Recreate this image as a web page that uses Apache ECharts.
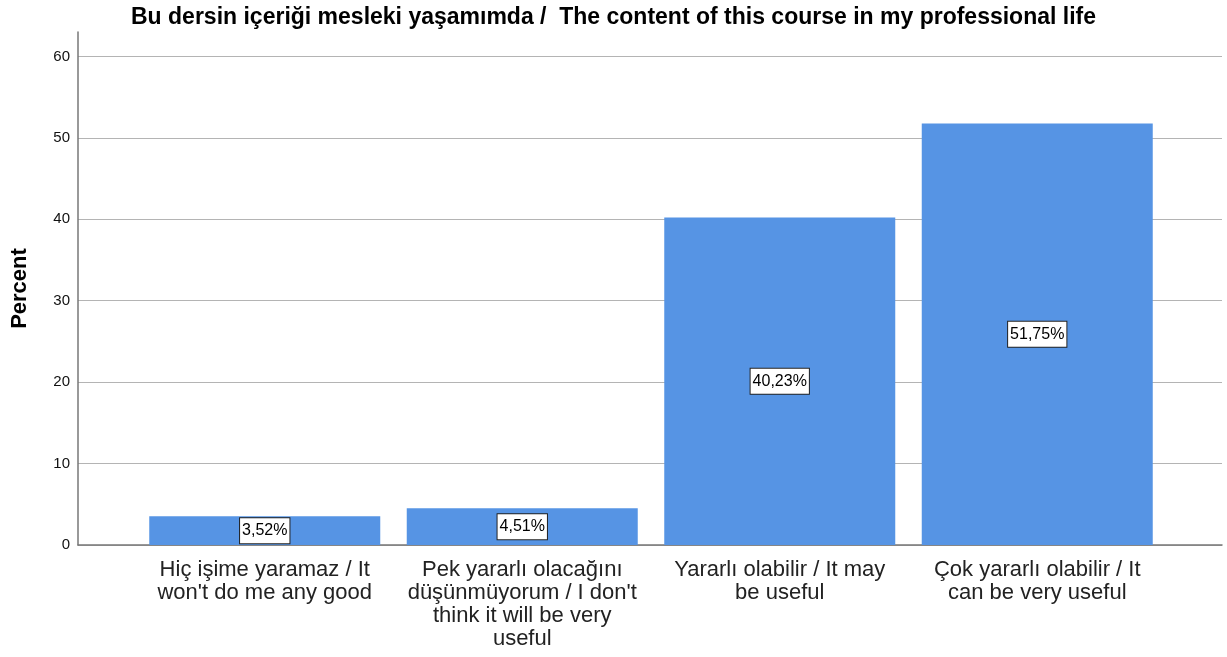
<!DOCTYPE html>
<html>
<head>
<meta charset="utf-8">
<script src="https://cdn.jsdelivr.net/npm/echarts@6/dist/echarts.min.js"></script>
<style>
  html, body { margin: 0; padding: 0; background: #fff; }
  #chart { width: 1227px; height: 657px; }
</style>
</head>
<body>
<div id="chart"></div>
<script>
const titleText = 'Bu dersin içeriği mesleki yaşamımda /  The content of this course in my professional life';
const categories = [
  'Hiç işime yaramaz / It won\'t do me any good',
  'Pek yararlı olacağını düşünmüyorum / I don\'t think it will be very useful',
  'Yararlı olabilir / It may be useful',
  'Çok yararlı olabilir / It can be very useful'
];
const percents = [3.52, 4.51, 40.23, 51.75];
const yTicks = [0, 10, 20, 30, 40, 50, 60];

const font = "'Liberation Sans', Arial, sans-serif";
const yMax = 63;
const catFontSize = 22;

// word wrap category labels to a fixed pixel width
const ctx = document.createElement('canvas').getContext('2d');
ctx.font = catFontSize + 'px ' + font;
function wrap(text, maxW) {
  const words = text.split(' ');
  const lines = [];
  let cur = '';
  words.forEach(w => {
    const test = cur ? cur + ' ' + w : w;
    if (cur && ctx.measureText(test).width > maxW) {
      lines.push(cur);
      cur = w;
    } else {
      cur = test;
    }
  });
  if (cur) lines.push(cur);
  return lines.join('\n');
}

const chart = echarts.init(document.getElementById('chart'));
chart.setOption({
  animation: false,
  textStyle: { fontFamily: font },
  title: {
    text: titleText,
    left: 'center',
    top: 1,
    textStyle: { fontFamily: font, fontSize: 23, fontWeight: 'bold', color: '#000' }
  },
  grid: [
    { left: 78, right: 5, top: 32, bottom: 112, outerBoundsMode: 'none', containLabel: false },
    { left: 136, right: 61, top: 32, bottom: 112, outerBoundsMode: 'none', containLabel: false }
  ],
  xAxis: [
    {
      gridIndex: 0, type: 'value', min: 0, max: 1,
      axisLine: { show: true, lineStyle: { color: '#777', width: 1.5 } },
      axisTick: { show: false }, axisLabel: { show: false }, splitLine: { show: false }
    },
    {
      gridIndex: 1, type: 'category', data: categories,
      axisLine: { show: false }, axisTick: { show: false },
      axisLabel: {
        interval: 0, margin: 13, fontSize: catFontSize, lineHeight: 23, color: '#222',
        fontFamily: font, hideOverlap: false,
        formatter: v => wrap(v, 236)
      }
    }
  ],
  yAxis: [
    {
      gridIndex: 0, type: 'value', min: 0, max: yMax, interval: 10,
      name: 'Percent', nameLocation: 'middle', nameGap: 47,
      nameTextStyle: { fontFamily: font, fontSize: 22, fontWeight: 'bold', color: '#000' },
      axisLine: { show: true, lineStyle: { color: '#777', width: 1.5 } },
      axisTick: { show: false },
      axisLabel: {
        fontSize: 15, color: '#111', margin: 8, showMaxLabel: false,
        formatter: v => yTicks.includes(v) ? String(v) : ''
      },
      splitLine: { show: true, showMaxLine: false, lineStyle: { color: '#b4b4b4', width: 1 } }
    },
    { gridIndex: 1, type: 'value', min: 0, max: yMax, show: false }
  ],
  series: [{
    type: 'bar',
    xAxisIndex: 1,
    yAxisIndex: 1,
    data: percents,
    barWidth: 231,
    itemStyle: { color: '#5694e4' },
    label: {
      show: true,
      position: 'inside',
      formatter: p => p.value.toFixed(2).replace('.', ',') + '%',
      fontSize: 16,
      color: '#000',
      fontFamily: font,
      backgroundColor: '#fff',
      borderColor: '#222',
      borderWidth: 1,
      padding: [5, 2, 4, 2]
    }
  }]
});
</script>
</body>
</html>
